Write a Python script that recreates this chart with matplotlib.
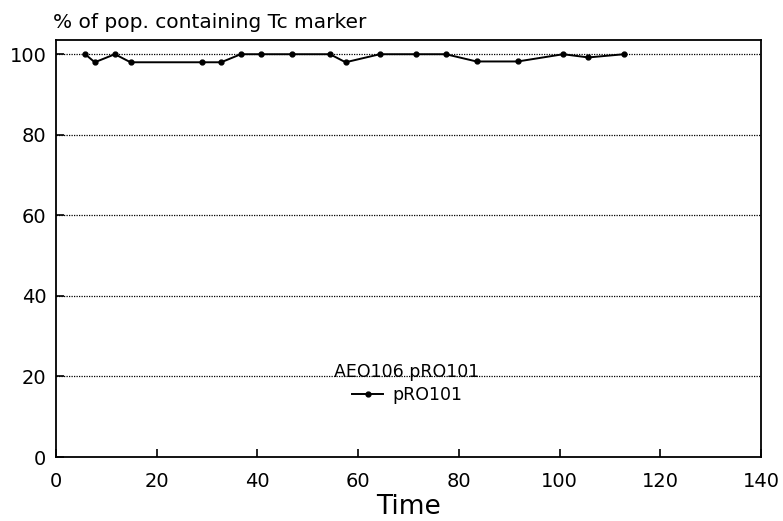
import numpy as np
import matplotlib
matplotlib.use("Agg")
import matplotlib.pyplot as plt

# data
time = [5.8, 7.7, 11.7, 14.8, 28.9, 32.8, 36.7, 40.8, 46.8, 54.4, 57.5,
        64.3, 71.4, 77.4, 83.5, 91.7, 100.7, 105.7, 112.8]
pct = [100, 98, 100, 98, 98, 98, 100, 100, 100, 100, 98,
       100, 100, 100, 98.2, 98.2, 100, 99.2, 100]
xticks = [0, 20, 40, 60, 80, 100, 120, 140]
yticks = [0, 20, 40, 60, 80, 100]

plt.rcParams['font.family'] = ['DejaVu Sans']

fig = plt.figure(figsize=(7.83, 5.21), dpi=100)
ax = fig.add_axes([0.0715, 0.1228, 0.9005, 0.8002])

for yv in yticks[1:]:
    ax.axhline(yv, color='black', linestyle=(0, (1, 1)), linewidth=0.9, zorder=1)

ax.plot(time, pct, color='black', linewidth=1.4, marker='o', markersize=3.5,
        label='pRO101', zorder=3)

ax.set_xlim(0, 140)
ax.set_ylim(0, 103.5)
ax.set_xticks(xticks)
ax.set_yticks(yticks)
ax.tick_params(direction='in', length=6, width=1.2, labelsize=14)
ax.tick_params(axis='x', pad=11)
ax.tick_params(axis='y', pad=7)
for s in ax.spines.values():
    s.set_linewidth(1.3)

ax.set_xlabel('Time', fontsize=19, labelpad=2)
fig.text(53 / 783, 1 - 22 / 521, '% of pop. containing Tc marker', fontsize=14.5,
         ha='left', va='center')

leg = ax.legend(title='AEO106 pRO101', loc='center', bbox_to_anchor=(0.498, 0.177),
                frameon=False, fontsize=12.5, title_fontsize=12.5, handlelength=1.8,
                handletextpad=0.5, labelspacing=0.3, borderpad=0)

fig.savefig('out.png', dpi=100)
